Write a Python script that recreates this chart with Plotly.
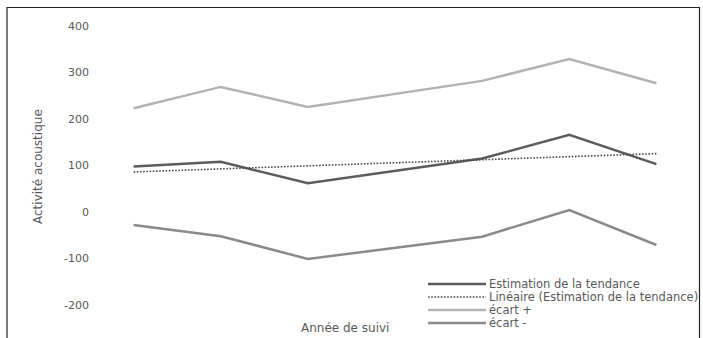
import numpy as np
import plotly.graph_objects as go

# Seven years of monitoring, plotted as evenly spaced categories
annees = [1, 2, 3, 4, 5, 6, 7]

estimation = [98, 108, 62, 89, 115, 166, 103]
ecart_plus = [223, 269, 226, 254, 282, 329, 277]
ecart_moins = [-28, -52, -101, -77, -53, 4, -71]

y_ticks = [-200, -100, 0, 100, 200, 300, 400]
y_labels = ["-200", "-100", "0", "100", "200", "300", "400"]

# Linear trend of the estimate (least squares fit)
pente, origine = np.polyfit(annees, estimation, 1)
tendance = [pente * a + origine for a in annees]

W, H = 703, 338
L, R, T, B = 90, 3, 26, 33
PW, PH = W - L - R, H - T - B

def px_x(x):
    return (x - L) / PW

def px_y(y):
    return (H - B - y) / PH

TXT = "#595959"
FONT = "DejaVu Sans"

series = [
    ("Estimation de la tendance", estimation, dict(color="#5c5c5c", width=2.5)),
    ("Linéaire (Estimation de la tendance)", tendance,
     dict(color="#4a4a4a", width=1.6, dash="1.6px,1.6px")),
    ("écart +", ecart_plus, dict(color="#b3b3b3", width=2.5)),
    ("écart -", ecart_moins, dict(color="#8a8a8a", width=2.5)),
]

fig = go.Figure()
for nom, valeurs, style in series:
    fig.add_trace(go.Scatter(x=annees, y=valeurs, mode="lines", name=nom,
                             line=style, showlegend=False))

# Legend drawn as line samples with labels, overlapping the plot bottom-right
shapes = [
    dict(type="rect", xref="paper", yref="paper",
         x0=px_x(7), x1=px_x(699.5), y0=px_y(345), y1=px_y(7.5),
         line=dict(color="#222222", width=1.2), layer="below"),
]
annotations = [
    dict(text="Activité acoustique", xref="paper", yref="paper",
         x=px_x(38), y=px_y(167), textangle=-90, showarrow=False,
         xanchor="center", yanchor="middle",
         font=dict(size=12, color=TXT)),
    dict(text="Année de suivi", xref="paper", yref="paper",
         x=px_x(345), y=px_y(328), showarrow=False,
         xanchor="center", yanchor="middle",
         font=dict(size=12, color=TXT)),
]
for i, (nom, _, style) in enumerate(series):
    yy = 284 + 13 * i
    shapes.append(dict(type="line", xref="paper", yref="paper",
                       x0=px_x(428), x1=px_x(486), y0=px_y(yy), y1=px_y(yy),
                       line=style))
    annotations.append(dict(text=nom, xref="paper", yref="paper",
                            x=px_x(487), y=px_y(yy), showarrow=False,
                            xanchor="left", yanchor="middle",
                            font=dict(size=11.5, color=TXT)))

fig.update_layout(
    width=W, height=H,
    margin=dict(l=L, r=R, t=T, b=B, autoexpand=False),
    paper_bgcolor="white", plot_bgcolor="white",
    font=dict(family=FONT, size=11, color=TXT),
    showlegend=False,
    xaxis=dict(range=[0.5, 7.5], showgrid=False, zeroline=False,
               showline=False, showticklabels=False, ticks=""),
    yaxis=dict(range=[-200, 400], tickvals=y_ticks, ticktext=y_labels,
               showgrid=False, zeroline=False, showline=False, ticks="",
               tickfont=dict(size=11, color=TXT)),
    annotations=annotations,
    shapes=shapes,
)

fig.write_html("out.html")
